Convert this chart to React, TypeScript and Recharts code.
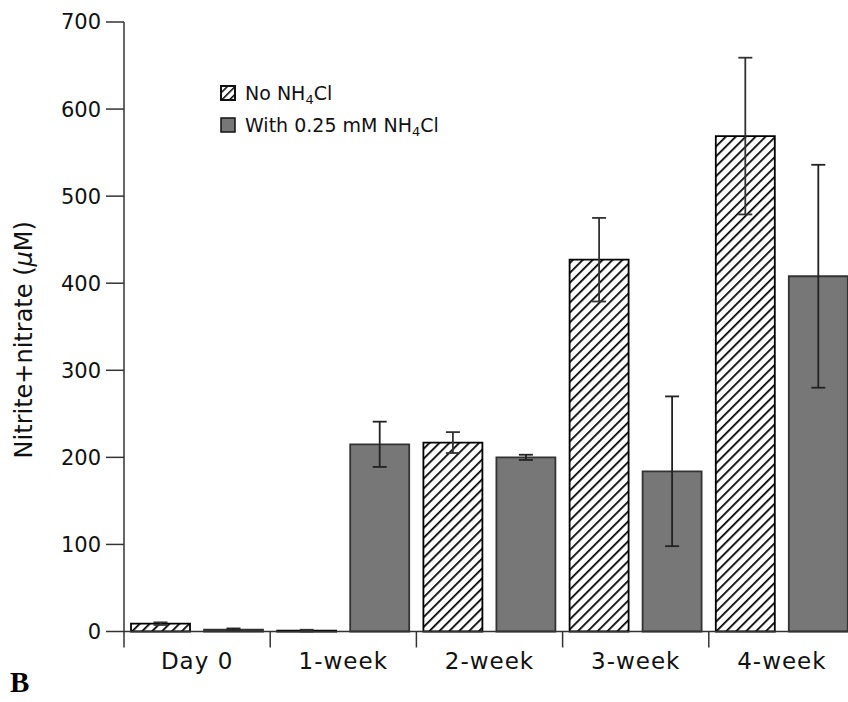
import { BarChart, Bar, XAxis, YAxis, ErrorBar, Legend } from "recharts";

const periods = ["Day 0", "1-week", "2-week", "3-week", "4-week"];
const noAmmonium = [9, 1, 217, 427, 569];
const noAmmoniumErr = [1.5, 1, 12, 48, 90];
const withAmmonium = [2, 215, 200, 184, 408];
const withAmmoniumErr = [1.5, 26, 3, 86, 128];
const yTicks = [0, 100, 200, 300, 400, 500, 600, 700];

const data = periods.map((p, i) => ({
  period: p,
  none: noAmmonium[i],
  noneErr: noAmmoniumErr[i],
  with: withAmmonium[i],
  withErr: withAmmoniumErr[i],
}));

const FONT = "'DejaVu Sans', Verdana, sans-serif";
const CHART_W = 870;
const CHART_H = 700;
const Y_AXIS_W = 124;
const PLOT_W = 731;
const BAND = PLOT_W / periods.length;
const GRAY = "#777777";

// category label centred in its band, tick mark on the band's left edge
function PeriodTick({ x, y, payload }: any) {
  const left = x - BAND / 2;
  return (
    <g>
      <line x1={left} y1={y} x2={left} y2={y + 16} stroke="#333" strokeWidth={1.5} />
      <text
        x={x}
        y={y + 37}
        textAnchor="middle"
        fontFamily={FONT}
        fontSize={23}
        letterSpacing={1}
        fill="#111"
      >
        {payload.value}
      </text>
    </g>
  );
}

function Swatch({ hatched }: { hatched: boolean }) {
  return (
    <svg width={16} height={16} style={{ display: "block" }}>
      <rect
        x={1}
        y={1}
        width={14}
        height={14}
        fill={hatched ? "url(#legendHatch)" : GRAY}
        stroke="#111"
        strokeWidth={hatched ? 2 : 1.5}
      />
    </svg>
  );
}

function LegendBox() {
  const row = { display: "flex", alignItems: "center", height: 32 } as const;
  const txt = { marginLeft: 9, fontFamily: FONT, fontSize: 19, color: "#111", whiteSpace: "nowrap" } as const;
  const sub = { fontSize: 13, verticalAlign: "-4px", lineHeight: 0 } as const;
  return (
    <div>
      <svg width={0} height={0} style={{ position: "absolute" }}>
        <defs>
          <pattern id="legendHatch" patternUnits="userSpaceOnUse" width={5.5} height={5.5} patternTransform="rotate(45)">
            <rect width={5.5} height={5.5} fill="#fff" />
            <line x1={0} y1={0} x2={0} y2={5.5} stroke="#000" strokeWidth={3} />
          </pattern>
        </defs>
      </svg>
      <div style={row}>
        <Swatch hatched />
        <span style={txt}>
          No NH<sub style={sub}>4</sub>Cl
        </span>
      </div>
      <div style={row}>
        <Swatch hatched={false} />
        <span style={txt}>
          With 0.25 mM NH<sub style={sub}>4</sub>Cl
        </span>
      </div>
    </div>
  );
}

function YTitle({ viewBox }: any) {
  const cx = viewBox.x + 32;
  const cy = viewBox.y + viewBox.height / 2 + 13;
  return (
    <text
      transform={`translate(${cx},${cy}) rotate(-90)`}
      textAnchor="middle"
      fontFamily={FONT}
      fontSize={24}
      fill="#111"
    >
      Nitrite+nitrate (<tspan fontStyle="italic">μ</tspan>M)
    </text>
  );
}

export default function App() {
  return (
    <div style={{ position: "absolute", left: 0, top: 0, width: 848, height: 702, overflow: "hidden", background: "#fff" }}>
      <BarChart
        width={CHART_W}
        height={CHART_H}
        data={data}
        margin={{ top: 22, right: CHART_W - Y_AXIS_W - PLOT_W, left: 0, bottom: 28.5 }}
        barSize={59}
        barGap={14}
      >
        <defs>
          <pattern id="barHatch" patternUnits="userSpaceOnUse" width={7} height={7} patternTransform="rotate(45)">
            <rect width={7} height={7} fill="#fff" />
            <line x1={0} y1={0} x2={0} y2={7} stroke="#000" strokeWidth={3.5} />
          </pattern>
        </defs>
        <XAxis
          dataKey="period"
          height={40}
          tickLine={false}
          tickSize={0}
          tickMargin={0}
          axisLine={{ stroke: "#333", strokeWidth: 1.5 }}
          tick={<PeriodTick />}
          interval={0}
        />
        <YAxis
          width={Y_AXIS_W}
          domain={[0, 700]}
          ticks={yTicks}
          tickSize={18}
          tickMargin={5}
          axisLine={{ stroke: "#333", strokeWidth: 1.5 }}
          tickLine={{ stroke: "#333", strokeWidth: 1.5 }}
          tick={{ fill: "#111", fontSize: 21, fontFamily: FONT }}
          label={{ position: "insideLeft", content: <YTitle /> }}
        />
        <Legend
          layout="vertical"
          align="center"
          verticalAlign="middle"
          content={<LegendBox />}
          wrapperStyle={{ position: "absolute", left: 220, top: 77, width: 320 }}
        />
        <Bar dataKey="none" fill="url(#barHatch)" stroke="#000" strokeWidth={1.8} isAnimationActive={false}>
          <ErrorBar dataKey="noneErr" width={7} stroke="#333" strokeWidth={1.8} />
        </Bar>
        <Bar dataKey="with" fill={GRAY} stroke="#333" strokeWidth={1.8} isAnimationActive={false}>
          <ErrorBar dataKey="withErr" width={7} stroke="#222" strokeWidth={1.8} />
        </Bar>
      </BarChart>
      <div
        style={{
          position: "absolute",
          left: 10,
          top: 666,
          fontFamily: "'Liberation Serif', 'Times New Roman', serif",
          fontWeight: "bold",
          fontSize: 29,
          color: "#000",
        }}
      >
        B
      </div>
    </div>
  );
}
